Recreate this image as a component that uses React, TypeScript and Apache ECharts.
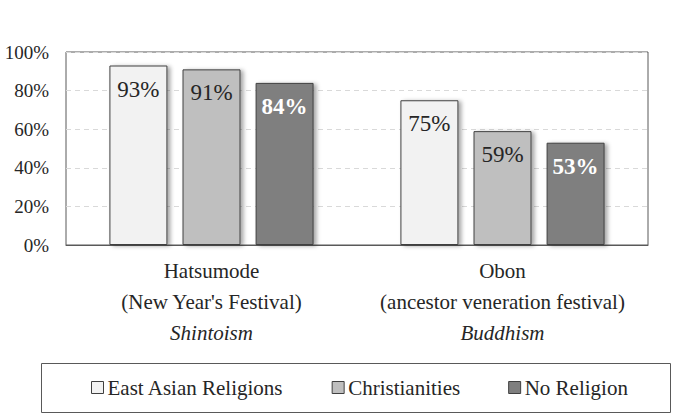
import React, { useEffect, useRef } from "react";
import * as echarts from "echarts";

// Festival categories with their descriptive lines
const festivals = ["Hatsumode", "Obon"];
const festivalNotes = ["(New Year's Festival)", "(ancestor veneration festival)"];
const traditions = ["Shintoism", "Buddhism"];

// Share of each group taking part (%)
const groups = ["East Asian Religions", "Christianities", "No Religion"];
const eastAsian = [93, 75];
const christian = [91, 59];
const noReligion = [84, 53];

const yTicks = [0, 20, 40, 60, 80, 100];

const SERIF = "Liberation Serif, Times New Roman, serif";

export default function App() {
  const ref = useRef<HTMLDivElement>(null);

  useEffect(() => {
    document.body.style.margin = "0";
    if (!ref.current) return;
    const chart = echarts.init(ref.current, undefined, { renderer: "svg" });

    const fills = ["#f2f2f2", "#bfbfbf", "#7f7f7f"];
    const values = [eastAsian, christian, noReligion];

    const series = groups.map((name, i) => ({
      name,
      type: "bar",
      data: values[i],
      barWidth: 58,
      barGap: "26%",
      itemStyle: {
        color: fills[i],
        borderColor: "#404040",
        borderWidth: 1,
        shadowBlur: 4,
        shadowOffsetX: 3,
        shadowOffsetY: 1,
        shadowColor: "rgba(0,0,0,0.35)",
      },
      label: {
        show: true,
        position: "insideTop",
        distance: 12,
        formatter: "{c}%",
        fontFamily: SERIF,
        fontSize: 23,
        fontWeight: i === 2 ? "bold" : "normal",
        color: i === 2 ? "#ffffff" : "#262626",
      },
    }));

    chart.setOption({
      animation: false,
      backgroundColor: "#ffffff",
      textStyle: { fontFamily: SERIF },
      grid: {
        left: 66,
        right: 52,
        top: 52,
        bottom: 174,
        show: true,
        borderColor: "#595959",
        borderWidth: 1,
        backgroundColor: "transparent",
      },
      xAxis: {
        type: "category",
        data: festivals,
        axisLine: { lineStyle: { color: "#595959" } },
        axisTick: { show: false },
        axisLabel: {
          margin: 10,
          interval: 0,
          fontFamily: SERIF,
          formatter: (value: string, idx: number) =>
            `{a|${value}}\n{a|${festivalNotes[idx]}}\n{i|${traditions[idx]}}`,
          rich: {
            a: { fontFamily: SERIF, fontSize: 21, color: "#262626", lineHeight: 31 },
            i: {
              fontFamily: SERIF,
              fontSize: 21,
              fontStyle: "italic",
              color: "#262626",
              lineHeight: 31,
            },
          },
        },
      },
      yAxis: {
        type: "value",
        min: yTicks[0],
        max: yTicks[yTicks.length - 1],
        interval: 20,
        axisLine: { show: false },
        axisTick: { show: false },
        axisLabel: {
          formatter: "{value}%",
          fontFamily: SERIF,
          fontSize: 19,
          color: "#262626",
          margin: 17,
        },
        splitLine: {
          show: true,
          lineStyle: { color: "#d9d9d9", type: [5, 4], width: 1 },
        },
      },
      legend: {
        data: groups,
        left: 91,
        top: 377,
        padding: 0,
        itemWidth: 12,
        itemHeight: 12,
        itemGap: 48,
        icon: "rect",
        itemStyle: {
          borderColor: "#404040",
          borderWidth: 1,
          shadowBlur: 0,
          shadowOffsetX: 0,
          shadowOffsetY: 0,
        },
        textStyle: { fontFamily: SERIF, fontSize: 21, color: "#262626", padding: [0, 0, 0, -1] },
      },
      graphic: [
        {
          type: "rect",
          shape: { x: 41.5, y: 363.5, width: 629, height: 49 },
          style: { fill: "none", stroke: "#595959", lineWidth: 1 },
          silent: true,
          z: 0,
        },
      ],
      series,
    });

    return () => chart.dispose();
  }, []);

  return <div ref={ref} style={{ width: 700, height: 419 }} />;
}
